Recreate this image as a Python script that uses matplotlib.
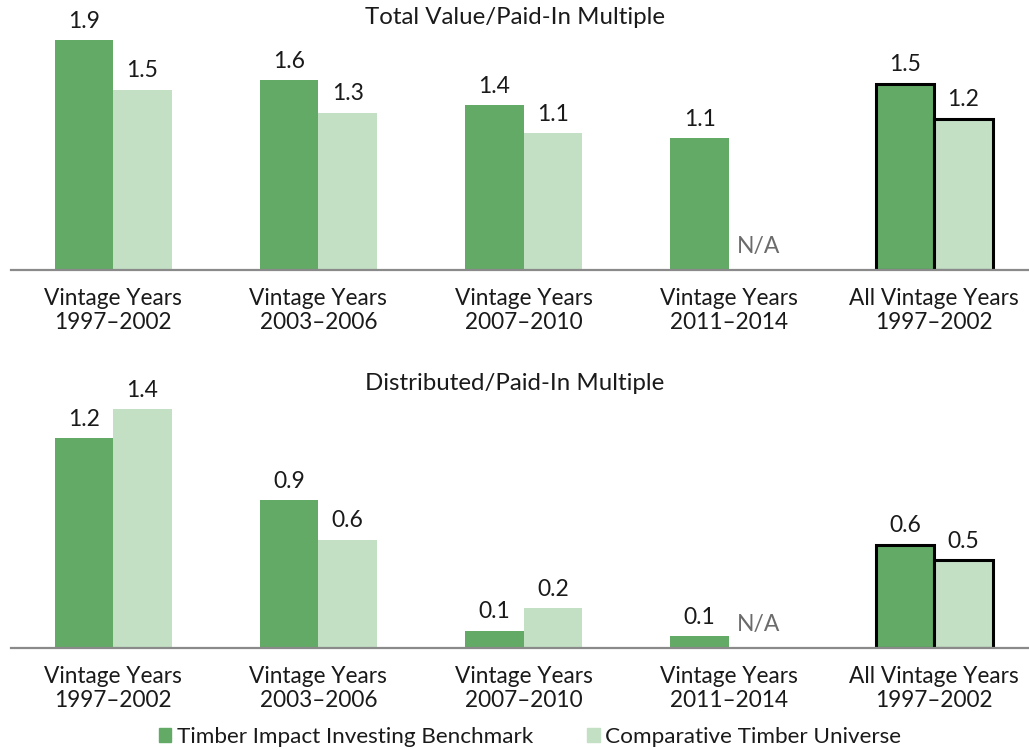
import matplotlib.pyplot as plt
import numpy as np
from matplotlib.patches import Patch

plt.rcParams['font.family'] = ['Lato', 'DejaVu Sans']

# Data
groups = ["Vintage Years\n1997\u20132002", "Vintage Years\n2003\u20132006",
          "Vintage Years\n2007\u20132010", "Vintage Years\n2011\u20132014",
          "All Vintage Years\n1997\u20132002"]
series_names = ["Timber Impact Investing Benchmark", "Comparative Timber Universe"]

tvpi_bench = [1.90, 1.57, 1.36, 1.09, 1.54]
tvpi_univ = [1.49, 1.30, 1.13, np.nan, 1.25]
tvpi_bench_lbl = ["1.9", "1.6", "1.4", "1.1", "1.5"]
tvpi_univ_lbl = ["1.5", "1.3", "1.1", "N/A", "1.2"]

dpi_bench = [1.22, 0.86, 0.10, 0.07, 0.60]
dpi_univ = [1.39, 0.63, 0.23, np.nan, 0.51]
dpi_bench_lbl = ["1.2", "0.9", "0.1", "0.1", "0.6"]
dpi_univ_lbl = ["1.4", "0.6", "0.2", "N/A", "0.5"]

dark = "#62aa66"
light = "#c3dfc4"
txt = "#1a1a1a"

W, H = 1029, 750
fig = plt.figure(figsize=(W / 100, H / 100), dpi=100)


def draw_panel(rect, bench, univ, bl, ul, ytop, title, title_y):
    ax = fig.add_axes(rect)
    x = np.arange(len(groups))
    w = 0.285
    for vals, lbls, col, off in [(bench, bl, dark, -w / 2), (univ, ul, light, w / 2)]:
        v = np.nan_to_num(vals)
        bars = ax.bar(x + off, v, width=w, color=col, zorder=2)
        # last group has a black outline
        bars[-1].set_edgecolor("black")
        bars[-1].set_linewidth(2.2)
        for xi, vi, lab in zip(x + off, v, lbls):
            if lab == "N/A":
                ax.annotate(lab, (xi, 0), xytext=(0, 9), textcoords="offset points",
                            ha="center", va="bottom", fontsize=16.5, color="#6b6b6b",
                            annotation_clip=False)
            else:
                ax.annotate(lab, (xi, vi), xytext=(0, 6), textcoords="offset points",
                            ha="center", va="bottom", fontsize=16.5, color=txt,
                            annotation_clip=False)
    ax.set_xlim(-0.497, 4.462)
    ax.set_ylim(0, ytop)
    for s in ["top", "right", "left"]:
        ax.spines[s].set_visible(False)
    ax.spines["bottom"].set_color("#8a8a8a")
    ax.spines["bottom"].set_linewidth(1.6)
    ax.spines["bottom"].set_zorder(3)
    ax.set_yticks([])
    ax.set_xticks(x)
    ax.set_xticklabels(groups, fontsize=16.3, color=txt, linespacing=1.15)
    ax.tick_params(axis="x", length=0, pad=13)
    ax.patch.set_visible(False)
    fig.text(515 / W, 1 - title_y / H, title, ha="center", va="center", fontsize=17.3, color=txt)
    return ax


# top panel: baseline at y=270 px, ~121 px per unit
draw_panel([11 / W, 0.64, 1 - 11 / W, 0.36], tvpi_bench, tvpi_univ,
           tvpi_bench_lbl, tvpi_univ_lbl, 270 / 121, "Total Value/Paid-In Multiple", 18)

# bottom panel: baseline at y=648 px, ~172 px per unit
draw_panel([11 / W, 102 / H, 1 - 11 / W, 268 / H], dpi_bench, dpi_univ,
           dpi_bench_lbl, dpi_univ_lbl, 268 / 172, "Distributed/Paid-In Multiple", 384)

handles = [Patch(color=dark), Patch(color=light)]
fig.legend(handles, series_names, loc="center", bbox_to_anchor=(530 / W, 1 - 737 / H),
           ncol=2, frameon=False, fontsize=16.2, handlelength=0.55, handleheight=0.55,
           handletextpad=0.25, columnspacing=2.4, labelcolor=txt)

fig.savefig("out.png", dpi=100)
